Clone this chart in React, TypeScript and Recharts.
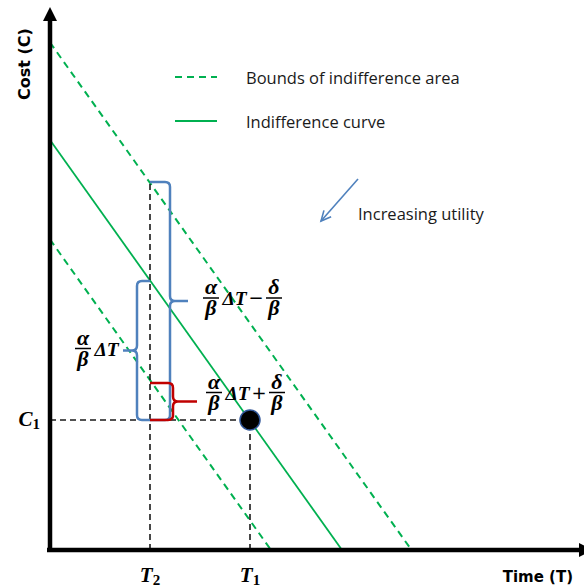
import { ComposedChart, Line, XAxis, YAxis, ReferenceLine, ReferenceDot, Scatter, Legend } from "recharts"

// all values in chart units: time (T) across, cost (C) up
const upperBoundT = [0, 72.3]
const upperBoundC = [101.5, 0]
const curveT = [0, 58.4]
const curveC = [82, 0]
const lowerBoundT = [0, 44.2]
const lowerBoundC = [62.1, 0]

const T2 = 20
const T1 = 40
const C1 = 26
const upperAtT2 = 73.6
const curveAtT2 = 53.8
const lowerAtT2 = 33.4

const tickT = [T2, T1]
const tickTSubs = ["2", "1"]
const tickC = [C1]
const tickCSubs = ["1"]

const pointT = [T1]
const pointC = [C1]

const utilityFrom = [61.6, 74.2]
const utilityTo = [54.2, 65.8]
const utilityLabelAt = [61.6, 66.1]

const legendNames = ["Bounds of indifference area", "Indifference curve"]

const toRows = (ts: number[], cs: number[]) => ts.map((t, i) => ({ t, c: cs[i] }))

const upperData = toRows(upperBoundT, upperBoundC)
const curveData = toRows(curveT, curveC)
const lowerData = toRows(lowerBoundT, lowerBoundC)
const pointData = toRows(pointT, pointC)

const GREEN = "#00b050"
const BLUE = "#4f81bd"
const RED = "#c00000"
const mathFont = "'Liberation Serif', 'DejaVu Serif', serif"
const textFont = "'Open Sans', 'Noto Sans', sans-serif"
const axisFont = "'DejaVu Sans', Verdana, sans-serif"
const mathStyle = { fontFamily: mathFont, fontSize: 19.5, fontWeight: "bold", fontStyle: "italic" } as any
const greekStyle = { ...mathStyle, fontSize: 22 }

function Frac({ cx, y, top, bottom }: any) {
  return (
    <g>
      <text x={cx} y={y - 4} textAnchor="middle" style={greekStyle}>{top}</text>
      <line x1={cx - 8} x2={cx + 8} y1={y} y2={y} stroke="#000" strokeWidth={1.5} />
      <text x={cx} y={y + 17} textAnchor="middle" style={greekStyle}>{bottom}</text>
    </g>
  )
}

// α/β ΔT (± δ/β), x = left edge, y = fraction bar
function Expr({ x, y, op }: any) {
  return (
    <g>
      <Frac cx={x + 7} y={y} top="α" bottom="β" />
      <text x={x + 18.5} y={y + 7} style={mathStyle}>ΔT</text>
      {op && (
        <>
          <text x={x + 52} y={y + 6} textAnchor="middle" style={{ fontFamily: "'DejaVu Sans', sans-serif", fontSize: 18 }}>
            {op}
          </text>
          <Frac cx={x + 70} y={y} top="δ" bottom="β" />
        </>
      )}
    </g>
  )
}

function braceShape(dir: number, width: number, tip: number, color: string, label: (tx: number, ty: number) => any) {
  return (props: any) => {
    const { x1, y1, y2 } = props
    const yTop = Math.min(y1, y2)
    const yBot = Math.max(y1, y2)
    const ym = (yTop + yBot) / 2
    const xv = x1 + dir * width
    const r = 5
    const d =
      `M${x1},${yTop} H${xv - dir * r} Q${xv},${yTop} ${xv},${yTop + r} V${ym - r} ` +
      `Q${xv},${ym} ${xv + dir * r},${ym} H${xv + dir * tip} M${xv + dir * r},${ym} ` +
      `Q${xv},${ym} ${xv},${ym + r} V${yBot - r} Q${xv},${yBot} ${xv - dir * r},${yBot} H${x1}`
    return (
      <g>
        <path d={d} fill="none" stroke={color} strokeWidth={2.5} />
        {label(xv + dir * tip, ym)}
      </g>
    )
  }
}

const xArrow = (p: any) => (
  <g>
    <line x1={p.x1 - 3} y1={p.y1} x2={p.x2 - 4} y2={p.y2} stroke="#000" strokeWidth={4.5} />
    <polygon points={`${p.x2 - 5},${p.y2 - 7} ${p.x2 + 9},${p.y2} ${p.x2 - 5},${p.y2 + 7}`} fill="#000" />
  </g>
)

const yArrow = (p: any) => (
  <g>
    <line x1={p.x1} y1={p.y1 + 2} x2={p.x2} y2={p.y2 + 12} stroke="#000" strokeWidth={4.5} />
    <polygon points={`${p.x2 - 7},${p.y2 + 14} ${p.x2},${p.y2} ${p.x2 + 7},${p.y2 + 14}`} fill="#000" />
  </g>
)

const utilityArrow = (p: any) => {
  const ang = Math.atan2(p.y2 - p.y1, p.x2 - p.x1)
  const head = 11
  const a1 = ang + Math.PI - 0.45
  const a2 = ang + Math.PI + 0.45
  return (
    <g stroke={BLUE} strokeWidth={1.6} fill="none">
      <line x1={p.x1} y1={p.y1} x2={p.x2} y2={p.y2} />
      <polyline
        points={`${p.x2 + head * Math.cos(a1)},${p.y2 + head * Math.sin(a1)} ${p.x2},${p.y2} ${p.x2 + head * Math.cos(a2)},${p.y2 + head * Math.sin(a2)}`}
      />
    </g>
  )
}

function TTick({ x, y, payload }: any) {
  const i = tickT.indexOf(payload.value)
  return (
    <text x={x} y={y + 32} textAnchor="middle" style={{ ...mathStyle, fontSize: 21 }}>
      <tspan>T</tspan>
      <tspan fontSize={15} fontStyle="normal" dy={3}>{tickTSubs[i]}</tspan>
    </text>
  )
}

function CTick({ x, y, payload }: any) {
  const i = tickC.indexOf(payload.value)
  return (
    <text x={x - 10} y={y + 6} textAnchor="end" style={{ ...mathStyle, fontSize: 21 }}>
      <tspan>C</tspan>
      <tspan fontSize={15} fontStyle="normal" dy={3}>{tickCSubs[i]}</tspan>
    </text>
  )
}

function LegendContent({ payload }: any) {
  const rows = (payload || []).filter((entry: any) => legendNames.includes(entry.value))
  return (
    <div style={{ fontFamily: textFont, fontSize: 16.5, color: "#1a1a1a" }}>
      {rows.map((entry: any) => (
        <div key={entry.value} style={{ display: "flex", alignItems: "center", height: 44 }}>
          <svg width={42} height={4}>
            <line x1={0} x2={42} y1={2} y2={2} stroke={entry.color} strokeWidth={2} strokeDasharray={entry.payload?.strokeDasharray} />
          </svg>
          <span style={{ marginLeft: 29 }}>{entry.value}</span>
        </div>
      ))}
    </div>
  )
}

export default function App() {
  return (
    <div style={{ position: "absolute", left: 0, top: 0, background: "#fff" }}>
      <ComposedChart width={584} height={587} margin={{ top: 7, right: 0, left: 0, bottom: 0 }}>
        <XAxis
          type="number"
          dataKey="t"
          domain={[0, 106.8]}
          ticks={tickT}
          interval={0}
          tick={(p: any) => <TTick {...p} />}
          tickLine={false}
          axisLine={false}
          tickSize={0}
          tickMargin={0}
          height={37}
          allowDataOverflow
          label={{
            content: (p: any) => (
              <text
                x={p.viewBox.x + p.viewBox.width - 11}
                y={p.viewBox.y + 32}
                textAnchor="end"
                style={{ fontFamily: axisFont, fontSize: 15, fontWeight: "bold" }}
              >
                Time (T)
              </text>
            ),
          }}
        />
        <YAxis
          type="number"
          dataKey="c"
          domain={[0, 108.6]}
          ticks={tickC}
          interval={0}
          tick={(p: any) => <CTick {...p} />}
          tickLine={false}
          axisLine={false}
          tickSize={0}
          tickMargin={0}
          width={50}
          allowDataOverflow
          label={{
            content: () => (
              <text x={30} y={64} textAnchor="middle" transform="rotate(-90, 30, 64)" style={{ fontFamily: axisFont, fontSize: 16, fontWeight: "bold" }}>
                Cost (C)
              </text>
            ),
          }}
        />
        <Legend
          layout="vertical"
          verticalAlign="middle"
          align="center"
          wrapperStyle={{ left: 175, top: 55, width: 320 }}
          content={(p: any) => <LegendContent {...p} />}
        />

        <Line data={upperData} dataKey="c" name="Bounds of indifference area" stroke={GREEN} strokeWidth={2} strokeDasharray="7 5" dot={false} activeDot={false} isAnimationActive={false} />
        <Line data={curveData} dataKey="c" name="Indifference curve" stroke={GREEN} strokeWidth={1.8} dot={false} activeDot={false} isAnimationActive={false} />
        <Line data={lowerData} dataKey="c" name="lower bound" legendType="none" stroke={GREEN} strokeWidth={2} strokeDasharray="7 5" dot={false} activeDot={false} isAnimationActive={false} />

        <ReferenceLine segment={[{ x: T2, y: 0 }, { x: T2, y: upperAtT2 }]} stroke="#1a1a1a" strokeWidth={1.6} strokeDasharray="6 4" ifOverflow="visible" />
        <ReferenceLine segment={[{ x: T1, y: 0 }, { x: T1, y: C1 }]} stroke="#1a1a1a" strokeWidth={1.6} strokeDasharray="6 4" ifOverflow="visible" />
        <ReferenceLine segment={[{ x: 0, y: C1 }, { x: T1, y: C1 }]} stroke="#1a1a1a" strokeWidth={1.6} strokeDasharray="6 4" ifOverflow="visible" />

        <ReferenceLine
          segment={[{ x: T2, y: C1 }, { x: T2, y: upperAtT2 }]}
          ifOverflow="visible"
          shape={braceShape(1, 20, 18, BLUE, (tx, ty) => <Expr x={tx + 16} y={ty - 3} op="−" />)}
        />
        <ReferenceLine
          segment={[{ x: T2, y: C1 }, { x: T2, y: curveAtT2 }]}
          ifOverflow="visible"
          shape={braceShape(-1, 13, 14, BLUE, (tx, ty) => <Expr x={tx - 47} y={ty - 2} />)}
        />
        <ReferenceLine
          segment={[{ x: T2, y: C1 }, { x: T2, y: lowerAtT2 }]}
          ifOverflow="visible"
          shape={braceShape(1, 23, 24, RED, (tx, ty) => <Expr x={tx + 10} y={ty - 9} op="+" />)}
        />

        <ReferenceLine segment={[{ x: utilityFrom[0], y: utilityFrom[1] }, { x: utilityTo[0], y: utilityTo[1] }]} ifOverflow="visible" shape={utilityArrow} />
        <ReferenceDot
          x={utilityLabelAt[0]}
          y={utilityLabelAt[1]}
          r={0}
          fill="none"
          stroke="none"
          ifOverflow="visible"
          label={{
            content: (p: any) => (
              <text x={p.viewBox.x} y={p.viewBox.y} style={{ fontFamily: textFont, fontSize: 16.5, fill: "#1a1a1a" }}>
                Increasing utility
              </text>
            ),
          }}
        />

        <ReferenceLine segment={[{ x: 0, y: 0 }, { x: 106.8, y: 0 }]} ifOverflow="visible" shape={xArrow} />
        <ReferenceLine segment={[{ x: 0, y: 0 }, { x: 0, y: 108.6 }]} ifOverflow="visible" shape={yArrow} />

        <Scatter
          data={pointData}
          dataKey="c"
          legendType="none"
          isAnimationActive={false}
          shape={(p: any) => <circle cx={p.cx} cy={p.cy} r={10} fill="#000" stroke="#2f5597" strokeWidth={1.5} />}
        />
      </ComposedChart>
    </div>
  )
}
